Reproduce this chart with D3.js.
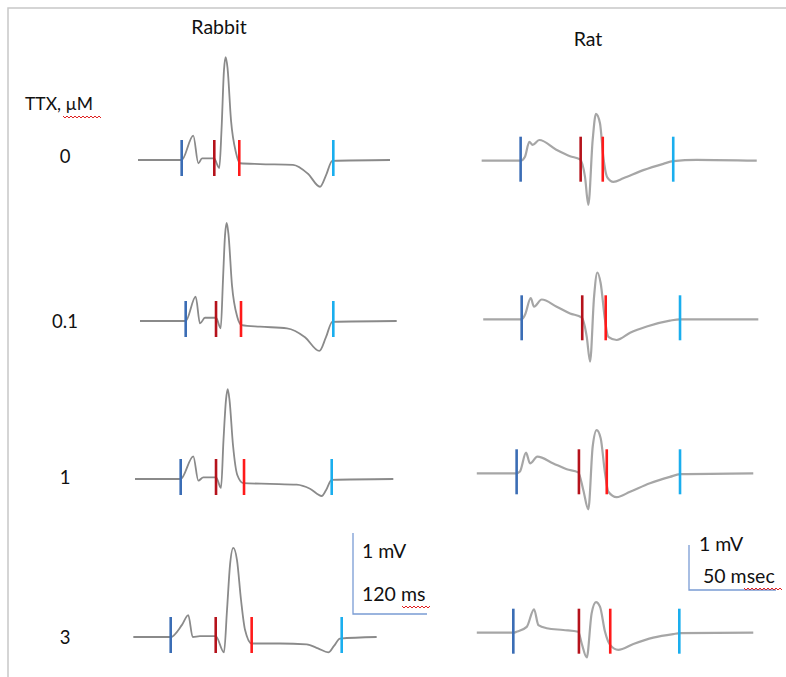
<!DOCTYPE html>
<html>
    <head>
        <title>TTX traces</title>
        <script src="https://d3js.org/d3.v7.min.js"></script>
        <style>
            body { margin: 0; background: #fff; }
            svg { display: block; }
            text { font-family: Lato, "Open Sans", sans-serif; fill: #111; }
        </style>
    </head>
    <body>
        <script>
            // ---- data (time in ms, voltage in mV relative to baseline) ----
            const species = ['Rabbit', 'Rat']
            const doses = ['0', '0.1', '1', '3']
            const doseTitle = 'TTX, \u00b5M'

            const rabbit0 = [[13,0],[83.8,0],[102.6,0.30],[110.8,-0.04],[116.8,0.02],[136.2,0.02],[144.8,-0.10],[148.4,0.37],[152.4,1.11],[155.2,1.27],[158.1,1.14],[163.8,0.49],[171.9,0.09],[178.4,-0.04],[210.8,-0.05],[264.3,-0.06],[288.6,-0.17],[308.1,-0.33],[317.8,-0.19],[328,-0.01],[421.6,0]]
            const rabbit01 = [[16.2,0],[90.3,0],[106.5,0.30],[113.5,-0.03],[121.6,0.04],[139.5,0.04],[147.1,-0.09],[150.8,0.51],[154.1,1.06],[156.8,1.21],[159.7,1.07],[165.4,0.44],[174,0.05],[181.1,-0.05],[210.8,-0.07],[254.6,-0.09],[283.8,-0.20],[307,-0.37],[317.8,-0.20],[328,-0.01],[432.5,0]]
            const rabbit1 = [[8.1,0],[82.2,0],[102.6,0.28],[110.8,-0.02],[118.9,0.02],[139.5,0.02],[147.6,-0.11],[151.6,0.48],[155.7,0.98],[158.4,1.11],[161.3,0.98],[167,0.42],[174,0.05],[183.7,-0.05],[227,-0.06],[270.3,-0.07],[291.9,-0.12],[310.9,-0.21],[317.8,-0.14],[327.1,-0.01],[427,0]]
            const rabbit3 = [[5.4,0],[66,0],[84.3,0.15],[94.5,0.27],[101.7,0],[113.5,0.01],[139,0.01],[152.4,-0.19],[157.3,0.33],[162.2,0.89],[167.5,1.10],[173.5,0.95],[180,0.46],[186.5,0.09],[197.3,-0.08],[243.2,-0.08],[286.5,-0.09],[304.9,-0.14],[321.6,-0.19],[330.8,-0.11],[340.5,-0.02],[400,0]]

            const rat0 = [[6.7,0],[29.1,0],[31.6,0.09],[34.1,0.42],[36,0.35],[39.8,0.46],[49.8,0.24],[57.5,0.10],[63.2,0.03],[66.1,-0.36],[68,-0.98],[70.5,0.46],[72.4,1.04],[74.7,0.83],[76.6,0.09],[78.9,-0.37],[82.4,-0.47],[88.1,-0.39],[99.6,-0.21],[111.1,-0.07],[116.8,-0.01],[130.3,0.02],[164.8,0]]
            const rat01 = [[7.6,0],[29.7,0],[31.6,0.10],[34.9,0.47],[36.8,0.28],[41.2,0.44],[49.8,0.28],[57.5,0.13],[64.2,0.04],[67.1,-0.39],[69,-0.94],[71.3,0.50],[73.2,1.04],[75.1,0.80],[77.6,-0.02],[79.5,-0.39],[84.3,-0.46],[92,-0.30],[101.6,-0.16],[114.9,-0.03],[120.7,0],[165.7,0]]
            const rat1 = [[3.9,0],[26.8,0],[28.7,0.04],[32.2,0.46],[34.5,0.22],[38.7,0.37],[47.9,0.22],[55.6,0.09],[62.2,0.02],[65.1,-0.37],[68,-0.80],[70.5,0.59],[72.8,0.96],[75.1,0.78],[77.6,0],[79.5,-0.41],[84.3,-0.53],[92,-0.41],[103.4,-0.22],[114.9,-0.08],[120.7,-0.02],[162.8,0]]
            const rat3 = [[3.9,0],[24.9,0],[26.8,0.02],[32.6,0.13],[36.8,0.52],[39.3,0.17],[44.1,0.10],[53.6,0.06],[62.2,0.02],[64.2,-0.24],[67.1,-0.55],[69.9,0.43],[72.4,0.68],[74.7,0.58],[77.6,0.02],[80.5,-0.27],[85.2,-0.38],[93.9,-0.25],[105.3,-0.11],[116.8,-0.03],[120.7,-0.01],[162.8,0]]

            // marker times (ms): [P onset, QRS onset, QRS end, T end]
            const rabbitMarks = [[83.8,136.7,177.2,329.7],[90.3,139.5,180,329.7],[82.2,139.5,184.9,327.1],[66,139,197.3,343.3]]
            const ratMarks = [[29.1,63.6,76.3,116.8],[29.7,64.5,78,120.7],[26.8,62.6,78.6,120.7],[24.9,62.6,80.6,120.3]]

            const rabbitBar = { mV: 1, ms: 120, labels: ['1 mV', '120 ms'] }
            const ratBar = { mV: 1, ms: 50, labels: ['1 mV', '50 msec'] }

            // ---- layout ----
            const W = 786, H = 677
            const svg = d3.select('body').append('svg').attr('width', W).attr('height', H)

            const markColors = ['#3b6db5', '#b5121b', '#ff1a1a', '#1aaeee']

            const panels = [
                { name: species[0], traces: [rabbit0, rabbit01, rabbit1, rabbit3], marks: rabbitMarks, bar: rabbitBar,
                  x: d3.scaleLinear().domain([0, 120]).range([130, 204]),
                  y: d3.scaleLinear().domain([0, 1]).range([0, -81]),
                  base: [160, 321, 479, 637], stroke: '#8a8a8a', sw: 1.8, mk: [-20, 16],
                  title: [219, 34], barAt: [353, 614] },
                { name: species[1], traces: [rat0, rat01, rat1, rat3], marks: ratMarks, bar: ratBar,
                  x: d3.scaleLinear().domain([0, 50]).range([470, 557]),
                  y: d3.scaleLinear().domain([0, 1]).range([0, -45]),
                  base: [160.7, 319.3, 473.3, 632.7], stroke: '#a6a6a6', sw: 2.2, mk: [-24, 21],
                  title: [588, 46], barAt: [689, 590] }
            ]

            // frame
            svg.append('path').attr('d', `M8,${H} V8 H${W}`)
                .attr('fill', 'none').attr('stroke', '#c8c8c8').attr('stroke-width', 1.5)

            // dose labels
            svg.append('text').attr('x', 25).attr('y', 110).attr('font-size', 17.5).text(doseTitle)
            const doseY = [163, 328, 484, 644]
            svg.selectAll('.dose').data(doses).enter().append('text')
                .attr('class', 'dose')
                .attr('x', 65).attr('y', (d, i) => doseY[i])
                .attr('text-anchor', 'middle').attr('font-size', 18.5)
                .text(d => d)

            const squiggle = (x0, x1, y) => {
                let p = `M${x0},${y}`
                for (let x = x0, k = 0; x < x1; x += 2, k++) p += ` L${x + 2},${y + (k % 2 ? 0 : 2)}`
                svg.append('path').attr('d', p).attr('fill', 'none').attr('stroke', '#e02020').attr('stroke-width', 1)
            }
            squiggle(63, 101, 116)

            panels.forEach(pn => {
                svg.append('text').attr('x', pn.title[0]).attr('y', pn.title[1])
                    .attr('text-anchor', 'middle').attr('font-size', 19.5).text(pn.name)

                const line = d3.line()
                    .x(d => pn.x(d[0]))
                    .curve(d3.curveMonotoneX)

                pn.traces.forEach((tr, i) => {
                    const b = pn.base[i]
                    svg.append('path')
                        .datum(tr)
                        .attr('d', line.y(d => b + pn.y(d[1])))
                        .attr('fill', 'none')
                        .attr('stroke', pn.stroke)
                        .attr('stroke-width', pn.sw)
                        .attr('stroke-linejoin', 'round')

                    svg.selectAll(null).data(pn.marks[i]).enter().append('line')
                        .attr('x1', d => pn.x(d)).attr('x2', d => pn.x(d))
                        .attr('y1', b + pn.mk[0]).attr('y2', b + pn.mk[1])
                        .attr('stroke', (d, j) => markColors[j])
                        .attr('stroke-width', 2.6)
                })

                // scale bar
                const [bx, by] = pn.barAt
                const bw = pn.x(pn.bar.ms) - pn.x(0)
                const bh = -pn.y(pn.bar.mV)
                svg.append('path')
                    .attr('d', `M${bx},${by - bh} V${by} H${bx + bw}`)
                    .attr('fill', 'none').attr('stroke', '#7a9cd4').attr('stroke-width', 1.3)
            })

            // scale bar labels
            svg.append('text').attr('x', 362).attr('y', 558).attr('font-size', 19.5).text(rabbitBar.labels[0])
            svg.append('text').attr('x', 362).attr('y', 601).attr('font-size', 19.5).text(rabbitBar.labels[1])
            squiggle(402, 430, 606)
            svg.append('text').attr('x', 699).attr('y', 551).attr('font-size', 19.5).text(ratBar.labels[0])
            svg.append('text').attr('x', 703).attr('y', 583).attr('font-size', 19.5).text(ratBar.labels[1])
            squiggle(744, 782, 588)
        </script>
    </body>
</html>
